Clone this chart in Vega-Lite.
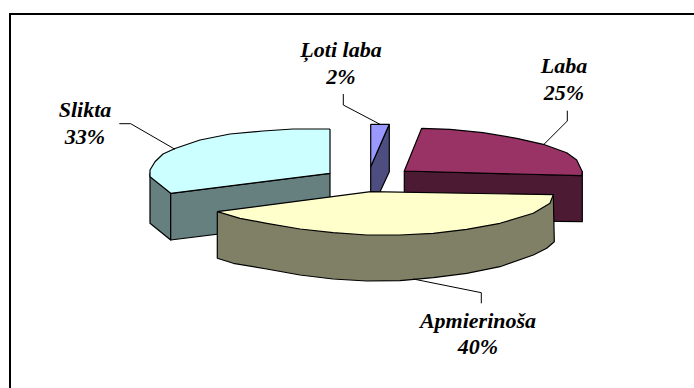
{
  "$schema": "https://vega.github.io/schema/vega-lite/v6.json",
  "width": 694,
  "height": 388,
  "padding": 0,
  "autosize": "none",
  "background": "white",
  "config": {"view": {"stroke": null}},
  "datasets": {
    "faces": [
      {"face":"slikta_outer","seq":1,"x":150,"y":173},{"face":"slikta_outer","seq":2,"x":170.7,"y":193.3},{"face":"slikta_outer","seq":3,"x":170.7,"y":240},{"face":"slikta_outer","seq":4,"x":150,"y":223.3},{"face":"slikta_outer","seq":5,"x":150,"y":173},
      {"face":"slikta_cut","seq":1,"x":170.7,"y":193.3},{"face":"slikta_cut","seq":2,"x":330,"y":173.3},{"face":"slikta_cut","seq":3,"x":330,"y":220},{"face":"slikta_cut","seq":4,"x":170.7,"y":240},{"face":"slikta_cut","seq":5,"x":170.7,"y":193.3},
      {"face":"slikta_top","seq":1,"x":330,"y":129},{"face":"slikta_top","seq":2,"x":330,"y":173.3},{"face":"slikta_top","seq":3,"x":170.7,"y":193.3},{"face":"slikta_top","seq":4,"x":150,"y":176.7},{"face":"slikta_top","seq":5,"x":150,"y":170},{"face":"slikta_top","seq":6,"x":155,"y":161.7},{"face":"slikta_top","seq":7,"x":163,"y":154},{"face":"slikta_top","seq":8,"x":175,"y":148.5},{"face":"slikta_top","seq":9,"x":200,"y":140},{"face":"slikta_top","seq":10,"x":230,"y":134},{"face":"slikta_top","seq":11,"x":263,"y":131},{"face":"slikta_top","seq":12,"x":293,"y":129},{"face":"slikta_top","seq":13,"x":330,"y":129},
      {"face":"loti_side","seq":1,"x":389.3,"y":124.3},{"face":"loti_side","seq":2,"x":370.7,"y":166.7},{"face":"loti_side","seq":3,"x":370.7,"y":195},{"face":"loti_side","seq":4,"x":378.5,"y":195},{"face":"loti_side","seq":5,"x":389.3,"y":171.7},{"face":"loti_side","seq":6,"x":389.3,"y":124.3},
      {"face":"loti_top","seq":1,"x":370.7,"y":124.3},{"face":"loti_top","seq":2,"x":389.3,"y":124.3},{"face":"loti_top","seq":3,"x":370.7,"y":166.7},{"face":"loti_top","seq":4,"x":370.7,"y":124.3},
      {"face":"laba_side","seq":1,"x":404.3,"y":171},{"face":"laba_side","seq":2,"x":581.7,"y":175.7},{"face":"laba_side","seq":3,"x":582.3,"y":171.7},{"face":"laba_side","seq":4,"x":582.3,"y":221.7},{"face":"laba_side","seq":5,"x":404.3,"y":220},{"face":"laba_side","seq":6,"x":404.3,"y":171},
      {"face":"laba_top","seq":1,"x":421.7,"y":128.3},{"face":"laba_top","seq":2,"x":450,"y":129.3},{"face":"laba_top","seq":3,"x":483,"y":132.7},{"face":"laba_top","seq":4,"x":516.7,"y":138.3},{"face":"laba_top","seq":5,"x":543.3,"y":144.3},{"face":"laba_top","seq":6,"x":566.7,"y":152.7},{"face":"laba_top","seq":7,"x":576.7,"y":160},{"face":"laba_top","seq":8,"x":582.3,"y":171.7},{"face":"laba_top","seq":9,"x":581.7,"y":175.7},{"face":"laba_top","seq":10,"x":404.3,"y":171},{"face":"laba_top","seq":11,"x":421.7,"y":128.3},
      {"face":"apm_side","seq":1,"x":217.3,"y":211.7},{"face":"apm_side","seq":2,"x":553.3,"y":194.7},{"face":"apm_side","seq":3,"x":554.3,"y":241.7},{"face":"apm_side","seq":4,"x":546.7,"y":248.3},{"face":"apm_side","seq":5,"x":533.3,"y":255},{"face":"apm_side","seq":6,"x":500,"y":266.7},{"face":"apm_side","seq":7,"x":466.7,"y":273.3},{"face":"apm_side","seq":8,"x":433.3,"y":277.7},{"face":"apm_side","seq":9,"x":400,"y":280.7},{"face":"apm_side","seq":10,"x":366.7,"y":281},{"face":"apm_side","seq":11,"x":333,"y":279},{"face":"apm_side","seq":12,"x":300,"y":275},{"face":"apm_side","seq":13,"x":266.7,"y":269},{"face":"apm_side","seq":14,"x":233.3,"y":263.3},{"face":"apm_side","seq":15,"x":217.3,"y":258.3},{"face":"apm_side","seq":16,"x":217.3,"y":211.7},
      {"face":"apm_top","seq":1,"x":217.3,"y":211.7},{"face":"apm_top","seq":2,"x":370.7,"y":191.7},{"face":"apm_top","seq":3,"x":553.3,"y":194.7},{"face":"apm_top","seq":4,"x":550,"y":203.3},{"face":"apm_top","seq":5,"x":533.3,"y":213.3},{"face":"apm_top","seq":6,"x":500,"y":223.3},{"face":"apm_top","seq":7,"x":466.7,"y":229.3},{"face":"apm_top","seq":8,"x":433.3,"y":233.3},{"face":"apm_top","seq":9,"x":400,"y":235},{"face":"apm_top","seq":10,"x":366.7,"y":235},{"face":"apm_top","seq":11,"x":333,"y":232.7},{"face":"apm_top","seq":12,"x":300,"y":229},{"face":"apm_top","seq":13,"x":266.7,"y":223.3},{"face":"apm_top","seq":14,"x":240,"y":218.3},{"face":"apm_top","seq":15,"x":217.3,"y":211.7}
    ],
    "leaders": [
      {"slice":"Ļoti laba","seq":1,"x":343.3,"y":94},{"slice":"Ļoti laba","seq":2,"x":343.3,"y":105},{"slice":"Ļoti laba","seq":3,"x":380,"y":124.3},
      {"slice":"Slikta","seq":1,"x":119.3,"y":123.7},{"slice":"Slikta","seq":2,"x":130.7,"y":123.7},{"slice":"Slikta","seq":3,"x":175,"y":149.3},
      {"slice":"Laba","seq":1,"x":567.3,"y":110.7},{"slice":"Laba","seq":2,"x":567.3,"y":121},{"slice":"Laba","seq":3,"x":544,"y":144.3},
      {"slice":"Apmierinoša","seq":1,"x":413.3,"y":279},{"slice":"Apmierinoša","seq":2,"x":481.3,"y":292.7},{"slice":"Apmierinoša","seq":3,"x":481.3,"y":303.3}
    ],
    "frame": [
      {"edge":"top","seq":1,"x":9,"y":14},{"edge":"top","seq":2,"x":694,"y":14},
      {"edge":"left","seq":1,"x":10,"y":13},{"edge":"left","seq":2,"x":10,"y":388}
    ],
    "labels": [
      {"text":"Ļoti laba","x":341,"y":57},{"text":"2%","x":341,"y":84},
      {"text":"Laba","x":564,"y":73},{"text":"25%","x":564,"y":100},
      {"text":"Slikta","x":85,"y":117},{"text":"33%","x":85,"y":144},
      {"text":"Apmierinoša","x":478,"y":328},{"text":"40%","x":478,"y":354}
    ]
  },
  "encoding": {
    "x": {"field":"x","type":"quantitative","axis":null,"scale":{"domain":[0,694],"nice":false,"zero":false}},
    "y": {"field":"y","type":"quantitative","axis":null,"scale":{"domain":[388,0],"nice":false,"zero":false}}
  },
  "layer": [
    {
      "data": {"name":"faces"},
      "mark": {"type":"line","stroke":"#000000","strokeWidth":1.2,"strokeJoin":"round","clip":true},
      "encoding": {
        "order": {"field":"seq","type":"quantitative"},
        "fill": {"field":"face","type":"nominal","legend":null,"sort":null,"scale":{
          "domain":["slikta_outer","slikta_cut","slikta_top","loti_side","loti_top","laba_side","laba_top","apm_side","apm_top"],
          "range":["#668080","#668080","#CCFFFF","#4D4D80","#9999FF","#4D1A33","#993366","#808066","#FFFFCC"]
        }}
      }
    },
    {
      "data": {"name":"leaders"},
      "mark": {"type":"line","stroke":"#000000","strokeWidth":1},
      "encoding": {
        "detail": {"field":"slice","type":"nominal"},
        "order": {"field":"seq","type":"quantitative"}
      }
    },
    {
      "data": {"name":"frame"},
      "mark": {"type":"line","stroke":"#000000","strokeWidth":2},
      "encoding": {
        "detail": {"field":"edge","type":"nominal"},
        "order": {"field":"seq","type":"quantitative"}
      }
    },
    {
      "data": {"name":"labels"},
      "mark": {"type":"text","font":"Liberation Serif","fontStyle":"italic","fontWeight":"bold","fontSize":22,"align":"center","baseline":"alphabetic","color":"#000000"},
      "encoding": {"text": {"field":"text","type":"nominal"}}
    }
  ]
}
